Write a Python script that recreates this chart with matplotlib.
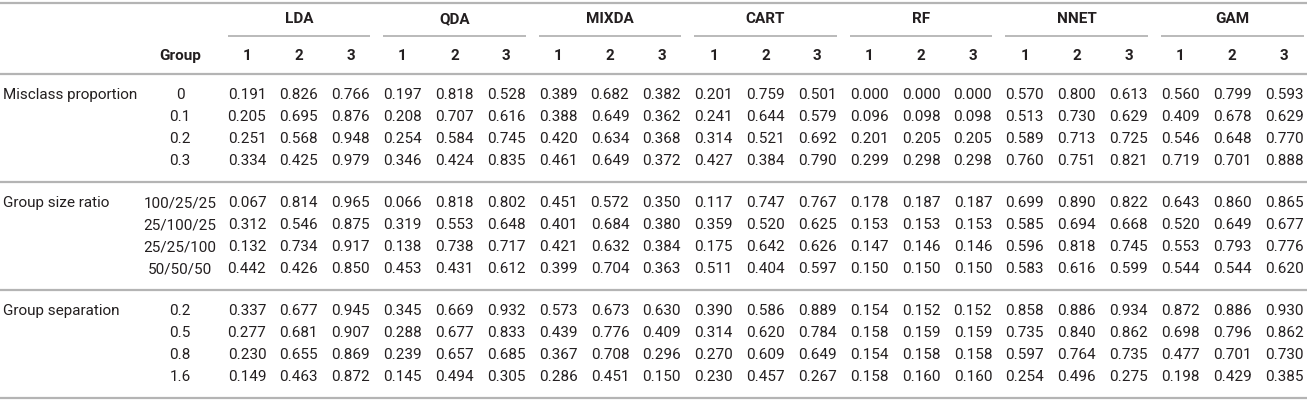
import matplotlib
matplotlib.use("Agg")
import matplotlib.pyplot as plt
import numpy as np

# ── data ─────────────────────────────────────────────────────────────────────
METHODS = ["LDA", "QDA", "MIXDA", "CART", "RF", "NNET", "GAM"]
SUB_GROUPS = ["1", "2", "3"]

FACTORS = ["Misclass proportion", "Group size ratio", "Group separation"]

MISCLASS_LEVELS = ["0", "0.1", "0.2", "0.3"]
MISCLASS_VALUES = [
    [0.191, 0.826, 0.766, 0.197, 0.818, 0.528, 0.389, 0.682, 0.382, 0.201, 0.759, 0.501, 0.000, 0.000, 0.000, 0.570, 0.800, 0.613, 0.560, 0.799, 0.593],
    [0.205, 0.695, 0.876, 0.208, 0.707, 0.616, 0.388, 0.649, 0.362, 0.241, 0.644, 0.579, 0.096, 0.098, 0.098, 0.513, 0.730, 0.629, 0.409, 0.678, 0.629],
    [0.251, 0.568, 0.948, 0.254, 0.584, 0.745, 0.420, 0.634, 0.368, 0.314, 0.521, 0.692, 0.201, 0.205, 0.205, 0.589, 0.713, 0.725, 0.546, 0.648, 0.770],
    [0.334, 0.425, 0.979, 0.346, 0.424, 0.835, 0.461, 0.649, 0.372, 0.427, 0.384, 0.790, 0.299, 0.298, 0.298, 0.760, 0.751, 0.821, 0.719, 0.701, 0.888],
]

SIZE_LEVELS = ["100/25/25", "25/100/25", "25/25/100", "50/50/50"]
SIZE_VALUES = [
    [0.067, 0.814, 0.965, 0.066, 0.818, 0.802, 0.451, 0.572, 0.350, 0.117, 0.747, 0.767, 0.178, 0.187, 0.187, 0.699, 0.890, 0.822, 0.643, 0.860, 0.865],
    [0.312, 0.546, 0.875, 0.319, 0.553, 0.648, 0.401, 0.684, 0.380, 0.359, 0.520, 0.625, 0.153, 0.153, 0.153, 0.585, 0.694, 0.668, 0.520, 0.649, 0.677],
    [0.132, 0.734, 0.917, 0.138, 0.738, 0.717, 0.421, 0.632, 0.384, 0.175, 0.642, 0.626, 0.147, 0.146, 0.146, 0.596, 0.818, 0.745, 0.553, 0.793, 0.776],
    [0.442, 0.426, 0.850, 0.453, 0.431, 0.612, 0.399, 0.704, 0.363, 0.511, 0.404, 0.597, 0.150, 0.150, 0.150, 0.583, 0.616, 0.599, 0.544, 0.544, 0.620],
]

SEP_LEVELS = ["0.2", "0.5", "0.8", "1.6"]
SEP_VALUES = [
    [0.337, 0.677, 0.945, 0.345, 0.669, 0.932, 0.573, 0.673, 0.630, 0.390, 0.586, 0.889, 0.154, 0.152, 0.152, 0.858, 0.886, 0.934, 0.872, 0.886, 0.930],
    [0.277, 0.681, 0.907, 0.288, 0.677, 0.833, 0.439, 0.776, 0.409, 0.314, 0.620, 0.784, 0.158, 0.159, 0.159, 0.735, 0.840, 0.862, 0.698, 0.796, 0.862],
    [0.230, 0.655, 0.869, 0.239, 0.657, 0.685, 0.367, 0.708, 0.296, 0.270, 0.609, 0.649, 0.154, 0.158, 0.158, 0.597, 0.764, 0.735, 0.477, 0.701, 0.730],
    [0.149, 0.463, 0.872, 0.145, 0.494, 0.305, 0.286, 0.451, 0.150, 0.230, 0.457, 0.267, 0.158, 0.160, 0.160, 0.254, 0.496, 0.275, 0.198, 0.429, 0.385],
]

BLOCKS = [
    (FACTORS[0], MISCLASS_LEVELS, MISCLASS_VALUES),
    (FACTORS[1], SIZE_LEVELS, SIZE_VALUES),
    (FACTORS[2], SEP_LEVELS, SEP_VALUES),
]

# ── layout (pixel units) ─────────────────────────────────────────────────────
W, H = 1307, 400
_TEXT = "#231f20"
_RULE = "#b4b4b4"
FONT = ["Roboto", "DejaVu Sans"]
FS = 11

X_FACTOR = 3
X_LEVEL = 180
X_COL0 = 247
COL_STEP = 51.85
UNDER_PAD = 19.5

Y_TOP = 3
Y_METHOD = 19
Y_UNDER = 36
Y_SUB = 56
Y_HEAD_RULE = 74
ROW_STEP = 22
RULE_GAP = 21

fig = plt.figure(figsize=(W / 100, H / 100), dpi=100)
ax = fig.add_axes([0, 0, 1, 1])
ax.set_xlim(0, W)
ax.set_ylim(H, 0)
ax.axis("off")


def hrule(y, x0=0, x1=W, lw=1.6):
    ax.plot([x0, x1], [y, y], color=_RULE, linewidth=lw, solid_capstyle="butt")


def col_x(i):
    return X_COL0 + i * COL_STEP


# header
hrule(Y_TOP)
for g, name in enumerate(METHODS):
    first, last = col_x(3 * g), col_x(3 * g + 2)
    ax.text((first + last) / 2, Y_METHOD, name, ha="center", va="center",
            fontsize=FS, fontweight="bold", family=FONT, color=_TEXT)
    hrule(Y_UNDER, first - UNDER_PAD, last + UNDER_PAD, lw=1.3)
    for k, sub in enumerate(SUB_GROUPS):
        ax.text(col_x(3 * g + k), Y_SUB, sub, ha="center", va="center",
                fontsize=FS, fontweight="bold", family=FONT, color=_TEXT)
ax.text(X_LEVEL, Y_SUB, "Group", ha="center", va="center",
        fontsize=FS, fontweight="bold", family=FONT, color=_TEXT)
hrule(Y_HEAD_RULE)

# body
y_rule = Y_HEAD_RULE
for factor, levels, values in BLOCKS:
    vals = np.asarray(values)
    y0 = y_rule + RULE_GAP
    for r, level in enumerate(levels):
        y = y0 + r * ROW_STEP
        if r == 0:
            ax.text(X_FACTOR, y, factor, ha="left", va="center",
                    fontsize=FS, family=FONT, color=_TEXT)
        ax.text(X_LEVEL, y, level, ha="center", va="center",
                fontsize=FS, family=FONT, color=_TEXT)
        for c, v in enumerate(vals[r]):
            ax.text(col_x(c), y, f"{v:.3f}", ha="center", va="center",
                    fontsize=FS, family=FONT, color=_TEXT)
    y_rule = y0 + (len(levels) - 1) * ROW_STEP + RULE_GAP
    hrule(y_rule)

fig.savefig("out.png", dpi=100)
plt.close(fig)
